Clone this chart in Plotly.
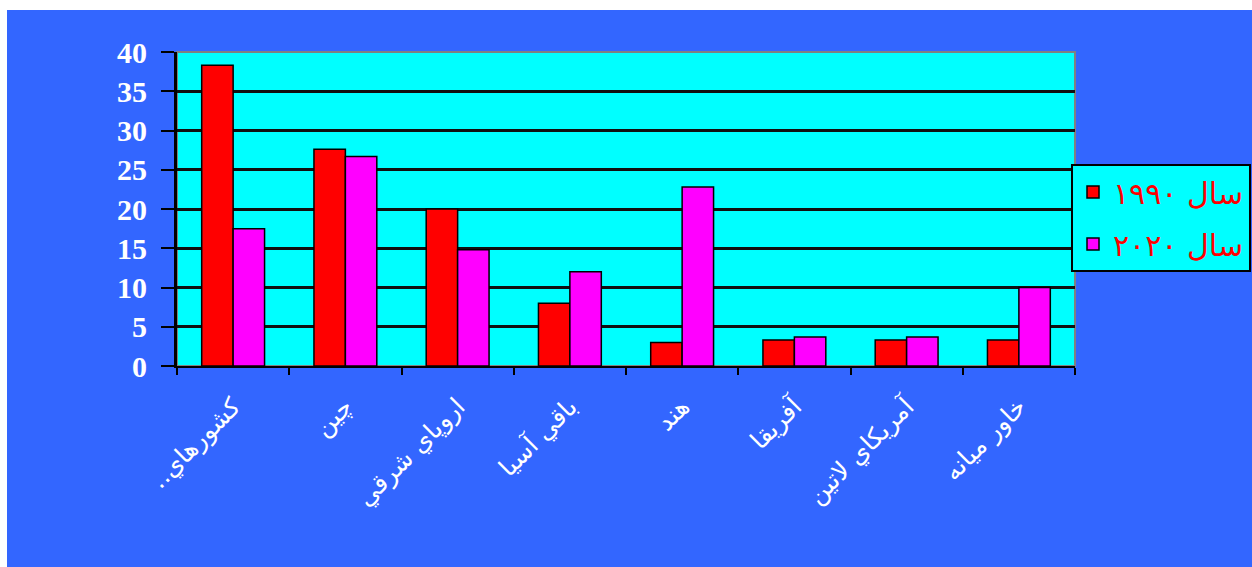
import plotly.graph_objects as go

categories = ["كشورهاي..\u200f", "چين", "اروپاي شرقي", "باقي آسيا", "هند", "آفريقا", "آمريكاي لاتين", "خاور ميانه"]
series_names = ["سال ۱۹۹۰", "سال ۲۰۲۰"]
values_1990 = [38.3, 27.6, 20.0, 8.0, 3.0, 3.3, 3.3, 3.3]
values_2020 = [17.5, 26.7, 14.8, 12.0, 22.8, 3.7, 3.7, 10.0]
y_ticks = [0, 5, 10, 15, 20, 25, 30, 35, 40]

W, H = 1252, 567
L, R, T, B = 177, 177, 52, 201
pw = W - L - R
ph = H - T - B

def px_x(p):
    return (p - L) / pw

def px_y(p):
    return (H - B - p) / ph

fig = go.Figure()
fig.add_trace(go.Bar(x=categories, y=values_1990, name=series_names[0], legendgroup="a",
                     marker=dict(color="#FF0000", line=dict(color="black", width=1.5))))
fig.add_trace(go.Bar(x=categories, y=values_2020, name=series_names[1], legendgroup="b",
                     marker=dict(color="#FF00FF", line=dict(color="black", width=1.5))))

shapes = [
    dict(type="rect", xref="paper", yref="paper", layer="below",
         x0=px_x(7), x1=px_x(W + 5), y0=px_y(H + 5), y1=px_y(10),
         fillcolor="#3366FF", line=dict(width=0)),
    dict(type="rect", xref="paper", yref="paper", layer="below",
         x0=0, x1=1, y0=0, y1=1,
         fillcolor="#00FFFF", line=dict(color="#808080", width=2)),
]

fig.update_layout(
    width=W, height=H,
    margin=dict(l=L, r=R, t=T, b=B, autoexpand=False),
    paper_bgcolor="white",
    plot_bgcolor="rgba(0,0,0,0)",
    shapes=shapes,
    barmode="group",
    bargap=0.44,
    bargroupgap=0,
    showlegend=True,
    legend=dict(
        xref="container", yref="container",
        x=1071 / W, y=1 - 164 / H, xanchor="left", yanchor="top",
        bgcolor="#00FFFF", bordercolor="black", borderwidth=2,
        font=dict(family="DejaVu Sans", size=30, color="#FF0000"),
        tracegroupgap=10,
    ),
    xaxis=dict(
        type="category", tickson="boundaries", ticks="outside", ticklen=7,
        tickwidth=2, tickcolor="black", showline=True, linecolor="black",
        linewidth=2, showgrid=False, tickangle=-45, ticklabelstandoff=14,
        tickfont=dict(family="DejaVu Sans", size=25, color="white"),
    ),
    yaxis=dict(
        range=[0, 40], tickvals=y_ticks, ticks="outside", ticklen=13,
        tickwidth=2, tickcolor="black", showline=True, linecolor="black",
        linewidth=3, showgrid=True, gridcolor="#101010", gridwidth=2.5,
        zeroline=False, ticklabelstandoff=8,
        tickfont=dict(family="Liberation Serif", size=30, color="white", weight="bold"),
    ),
)

fig.write_html("out.html")
